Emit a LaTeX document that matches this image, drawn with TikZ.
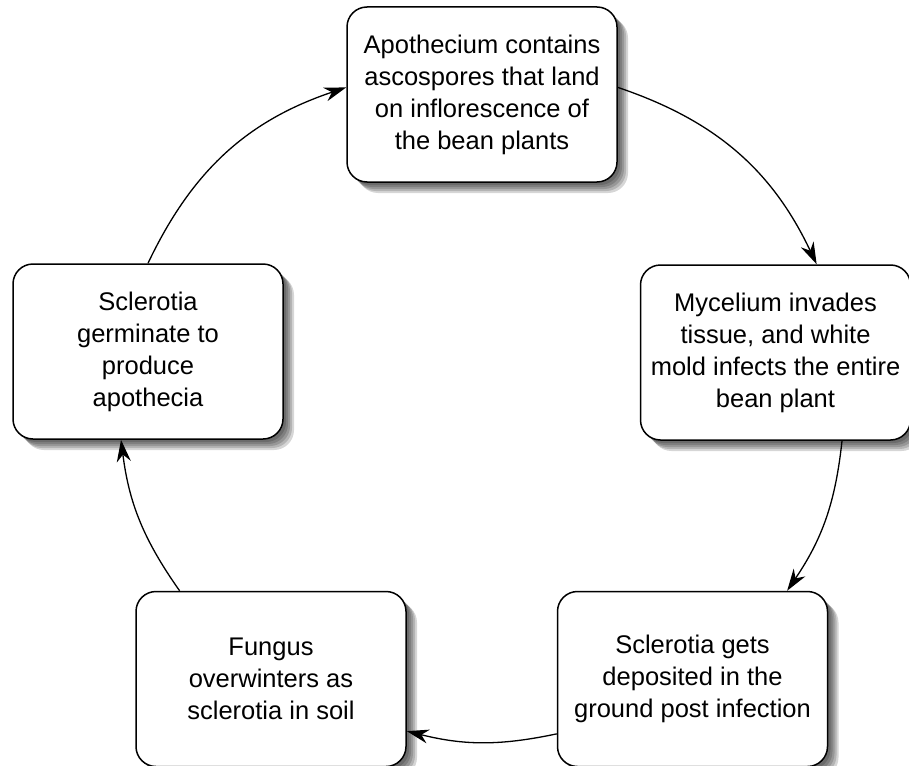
\documentclass[tikz,border=0pt]{standalone}
\usepackage{fontspec}
\setmainfont{Liberation Sans}
\usepackage{tikz}
\usetikzlibrary{arrows.meta}
\usetikzlibrary{shadows}

\begin{document}
\begin{tikzpicture} [
    x=1pt, y=1pt,
    softshade/.style = {general shadow={fill=black, opacity=0.16, shadow xshift=#1, shadow yshift=-#1}},
    stagebox/.style = {draw, line width=1.5pt, fill=white, rounded corners=20pt,
        minimum width=270pt, minimum height=175pt, align=center,
        font=\fontsize{25.5}{32}\selectfont,
        softshade=11pt, softshade=9pt, softshade=7pt, softshade=5pt, softshade=3pt},
    cycle/.style = {line width=1.3pt, -{Stealth[length=22pt, width=14pt, inset=7pt]}}
]
    \useasboundingbox (0,0) rectangle (909,-765);
    \node [stagebox] (apothecium) at (482,-94.5)
        {Apothecium contains\\ascospores that land\\on inflorescence of\\the bean plants};
    \node [stagebox] (mycelium) at (775.5,-352.5)
        {Mycelium invades\\tissue, and white\\mold infects the entire\\bean plant};
    \node [stagebox] (deposit) at (692.5,-679)
        {Sclerotia gets\\deposited in the\\ground post infection};
    \node [stagebox] (fungus) at (271,-679)
        {Fungus\\overwinters as\\sclerotia in soil};
    \node [stagebox] (germinate) at (148,-351.5)
        {Sclerotia\\germinate to\\produce\\apothecia};

    \draw [cycle] (apothecium.3) to [bend left=23] (mycelium.65);
    \draw [cycle] (mycelium.-53) to [bend left=14] (deposit.43);
    \draw [cycle] (deposit.202) to [bend left=13] (fungus.-21);
    \draw [cycle] (fungus.136) to [bend left=14] (germinate.253);
    \draw [cycle] (germinate.north) to [bend left=23] (apothecium.177);
\end{tikzpicture}
\end{document}
